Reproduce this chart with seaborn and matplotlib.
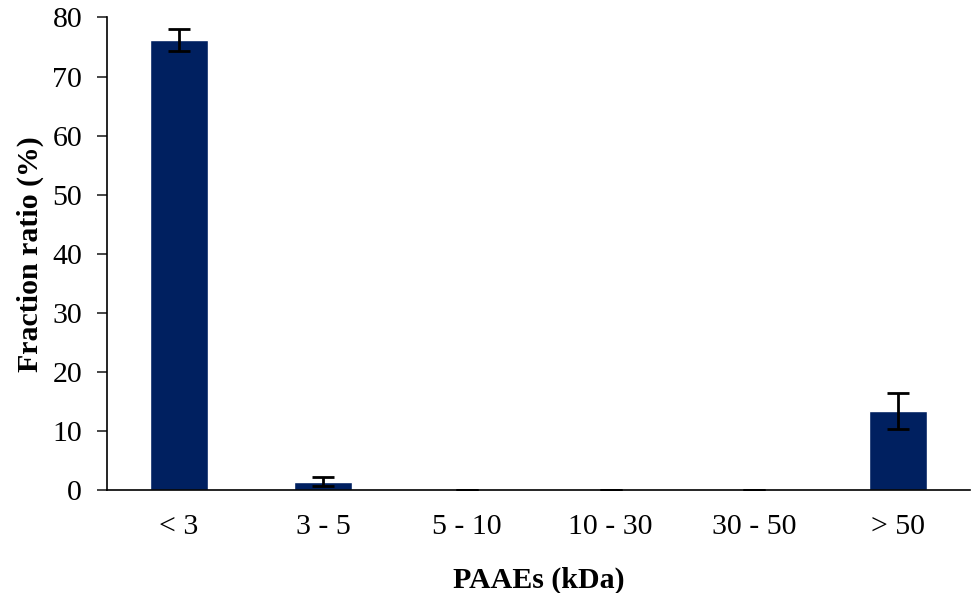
import seaborn as sns
import matplotlib.pyplot as plt
import pandas as pd

# fraction ratio of PAAEs by molecular weight
categories = ['< 3', '3 - 5', '5 - 10', '10 - 30', '30 - 50', '> 50']
ratio = [76.2, 1.5, 0.15, 0.15, 0.15, 13.45]
err = [1.9, 0.75, 0.0, 0.0, 0.0, 3.05]

df = pd.DataFrame({'size': categories, 'ratio': ratio})

sns.set_style('white')
plt.rcParams['font.family'] = ['Liberation Serif', 'DejaVu Serif']

fig = plt.figure(figsize=(9.74, 5.93), dpi=100)
ax = fig.add_axes([0.11, 0.173, 0.886, 0.7975])

sns.barplot(x='size', y='ratio', data=df, color='#002060', saturation=1,
            width=0.4, errorbar=None, ax=ax)
ax.errorbar(x=range(len(categories)), y=ratio, yerr=err, fmt='none',
            ecolor='black', elinewidth=2, capsize=8, capthick=2)

ax.set_ylim(0, 80)
ax.set_xlim(-0.5, 5.5)
ax.set_yticks(range(0, 81, 10))
ax.set_xlabel('PAAEs (kDa)', fontsize=21.5, fontweight='bold', labelpad=19)
ax.set_ylabel('Fraction ratio (%)', fontsize=21.5, fontweight='bold', labelpad=6)
ax.tick_params(axis='y', labelsize=21.5, length=7, width=1.2, direction='out',
               left=True, pad=11, labelcolor='black')
ax.tick_params(axis='x', labelsize=21.5, length=0, pad=17, labelcolor='black')
ax.xaxis.label.set_color('black')
ax.yaxis.label.set_color('black')

sns.despine(ax=ax)
ax.spines['left'].set_linewidth(1.2)
ax.spines['bottom'].set_linewidth(1.2)
ax.spines['left'].set_color('black')
ax.spines['bottom'].set_color('black')

fig.savefig('out.png', dpi=100)
